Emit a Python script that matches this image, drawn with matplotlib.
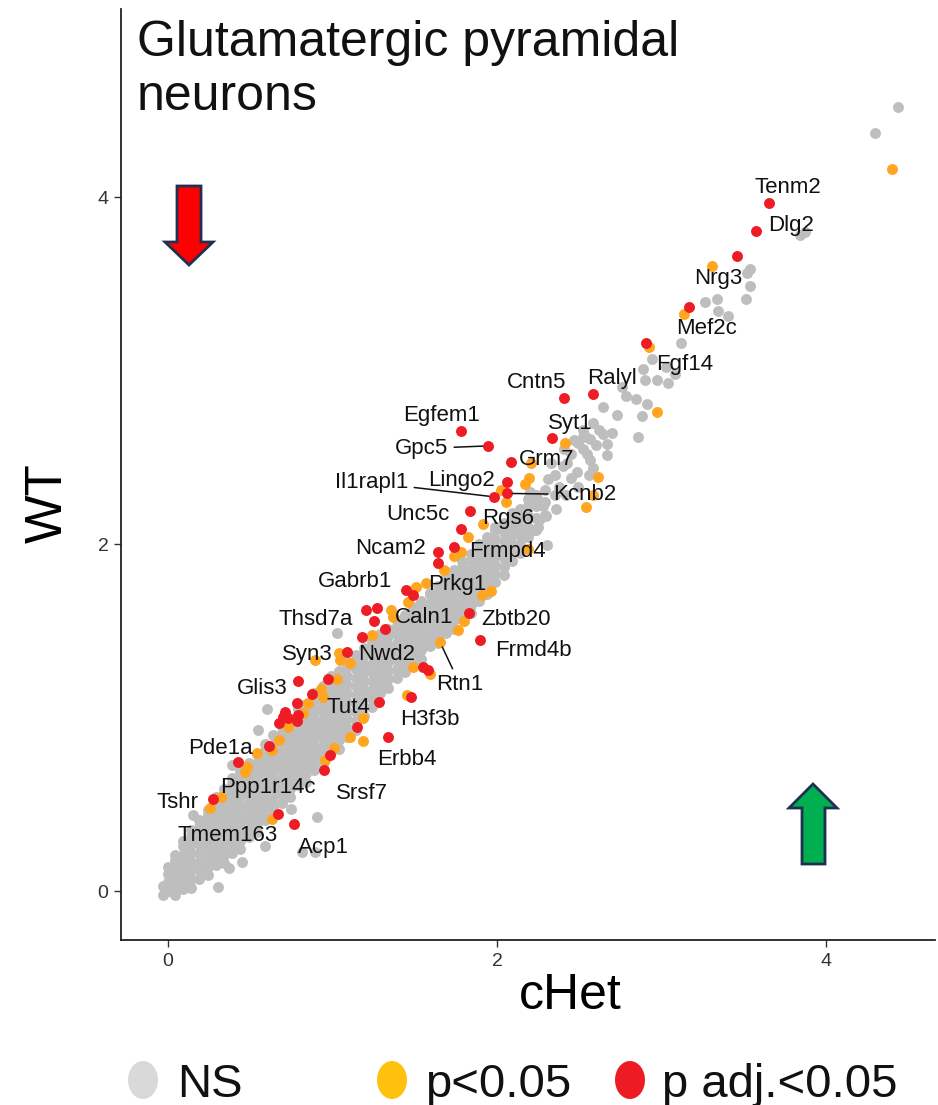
import matplotlib
matplotlib.use("Agg")
import matplotlib.pyplot as plt
from matplotlib.patches import Polygon, Ellipse

plt.rcParams['font.family'] = ['Liberation Sans', 'DejaVu Sans']

# dense NS band, read column by column (x, then the y values of that column)
ns_band_cols = [-0.03, 0.00, 0.04, 0.09, 0.14, 0.19, 0.24, 0.29, 0.34, 0.39, 0.44, 0.49,
                0.54, 0.59, 0.64, 0.69, 0.74, 0.79, 0.84, 0.89, 0.94, 0.99, 1.04, 1.09,
                1.14, 1.19, 1.24, 1.29, 1.34, 1.39, 1.44, 1.49, 1.54, 1.59, 1.64, 1.69,
                1.74, 1.79, 1.84, 1.89, 1.94, 1.99, 2.04, 2.09, 2.14, 2.19, 2.24, 2.29]
ns_band_vals = [
    [-0.02, 0.03],
    [-0.00, 0.05, 0.10, 0.14],
    [-0.02, 0.03, 0.08, 0.13, 0.18, 0.21],
    [0.01, 0.06, 0.11, 0.16, 0.21, 0.26, 0.29],
    [0.02, 0.07, 0.12, 0.17, 0.22, 0.27, 0.32, 0.35],
    [0.07, 0.12, 0.17, 0.22, 0.27, 0.32, 0.37, 0.41],
    [0.09, 0.14, 0.19, 0.24, 0.29, 0.34, 0.39, 0.44, 0.47],
    [0.15, 0.20, 0.25, 0.30, 0.35, 0.40, 0.45, 0.50, 0.54],
    [0.16, 0.21, 0.26, 0.31, 0.36, 0.41, 0.46, 0.51, 0.56, 0.59],
    [0.22, 0.27, 0.32, 0.37, 0.42, 0.47, 0.52, 0.57, 0.62, 0.65],
    [0.24, 0.29, 0.34, 0.39, 0.44, 0.49, 0.54, 0.59, 0.64, 0.69],
    [0.31, 0.36, 0.41, 0.46, 0.51, 0.56, 0.61, 0.66, 0.71, 0.74],
    [0.34, 0.39, 0.44, 0.49, 0.54, 0.59, 0.64, 0.69, 0.74, 0.79],
    [0.41, 0.46, 0.51, 0.56, 0.61, 0.66, 0.71, 0.76, 0.81, 0.85],
    [0.44, 0.49, 0.54, 0.59, 0.64, 0.69, 0.74, 0.79, 0.84, 0.90],
    [0.51, 0.56, 0.61, 0.66, 0.71, 0.76, 0.81, 0.86, 0.91, 0.95],
    [0.54, 0.59, 0.64, 0.69, 0.74, 0.79, 0.84, 0.89, 0.94, 0.99],
    [0.61, 0.66, 0.71, 0.76, 0.81, 0.86, 0.91, 0.96, 1.01, 1.05],
    [0.63, 0.68, 0.73, 0.78, 0.83, 0.88, 0.93, 0.98, 1.03, 1.08],
    [0.70, 0.75, 0.80, 0.85, 0.90, 0.95, 1.00, 1.05, 1.10, 1.14],
    [0.73, 0.78, 0.83, 0.88, 0.93, 0.98, 1.03, 1.08, 1.13, 1.18],
    [0.80, 0.85, 0.90, 0.95, 1.00, 1.05, 1.10, 1.15, 1.20, 1.24],
    [0.82, 0.87, 0.92, 0.97, 1.02, 1.07, 1.12, 1.17, 1.22, 1.27],
    [0.89, 0.94, 0.99, 1.04, 1.09, 1.14, 1.19, 1.24, 1.29, 1.32],
    [0.93, 0.98, 1.03, 1.08, 1.13, 1.18, 1.23, 1.28, 1.33, 1.36],
    [1.01, 1.06, 1.11, 1.16, 1.21, 1.26, 1.31, 1.36, 1.40],
    [1.06, 1.11, 1.16, 1.21, 1.26, 1.31, 1.36, 1.41, 1.44],
    [1.14, 1.19, 1.24, 1.29, 1.34, 1.39, 1.44, 1.48],
    [1.17, 1.22, 1.27, 1.32, 1.37, 1.42, 1.47, 1.51],
    [1.23, 1.28, 1.33, 1.38, 1.43, 1.48, 1.53, 1.56],
    [1.26, 1.31, 1.36, 1.41, 1.46, 1.51, 1.56, 1.59],
    [1.32, 1.37, 1.42, 1.47, 1.52, 1.57, 1.62, 1.64],
    [1.34, 1.39, 1.44, 1.49, 1.54, 1.59, 1.64, 1.67],
    [1.41, 1.46, 1.51, 1.56, 1.61, 1.66, 1.71, 1.72],
    [1.43, 1.48, 1.53, 1.58, 1.63, 1.68, 1.73, 1.76],
    [1.49, 1.54, 1.59, 1.64, 1.69, 1.74, 1.79, 1.81],
    [1.51, 1.56, 1.61, 1.66, 1.71, 1.76, 1.81, 1.85],
    [1.57, 1.62, 1.67, 1.72, 1.77, 1.82, 1.87, 1.90],
    [1.60, 1.65, 1.70, 1.75, 1.80, 1.85, 1.90, 1.94],
    [1.67, 1.72, 1.77, 1.82, 1.87, 1.92, 1.97, 2.00],
    [1.71, 1.76, 1.81, 1.86, 1.91, 1.96, 2.01, 2.04],
    [1.78, 1.83, 1.88, 1.93, 1.98, 2.03, 2.08, 2.10],
    [1.82, 1.87, 1.92, 1.97, 2.02, 2.07, 2.12],
    [1.90, 1.95, 2.00, 2.05, 2.10, 2.15, 2.18],
    [1.95, 2.00, 2.05, 2.10, 2.15, 2.20],
    [2.04, 2.10, 2.16, 2.22, 2.26],
    [2.08, 2.15, 2.22, 2.28],
    [2.17, 2.24, 2.31],
]

# scattered NS genes outside the band
ns_x = [4.44, 4.30, 3.87, 3.84, 3.538, 3.518, 3.538, 3.514, 3.339, 3.266, 3.345, 3.406,
        3.119, 2.940, 2.890, 3.025, 3.082, 2.900, 2.975, 3.042, 2.758, 2.782, 2.845, 2.910,
        2.642, 2.731, 2.879, 2.859, 2.646, 2.585, 2.535, 2.525, 2.565, 2.671, 2.494,
        2.484, 2.424, 2.565, 2.667, 2.585, 2.312, 2.241, 2.140, 2.261, 2.302, 2.231,
        2.099, 1.998, 2.35, 2.40, 2.45, 2.28, 2.35, 2.18, 2.25, 2.20, 2.38, 2.45, 2.52,
        2.60, 2.55, 2.33, 2.41, 2.47, 2.52, 2.62, 2.49, 2.36, 2.30, 2.42, 2.56, 2.70,
        1.026, 0.600, 0.545, 0.387, 0.154, 0.904, 0.746, 0.813, 0.894, 0.590, 0.448,
        0.371, 0.302]
ns_y = [4.52, 4.37, 3.80, 3.78, 3.585, 3.560, 3.487, 3.412, 3.410, 3.393, 3.343, 3.316,
        3.157, 3.064, 3.009, 3.022, 2.983, 2.945, 2.945, 2.930, 2.903, 2.853, 2.836, 2.810,
        2.791, 2.744, 2.740, 2.619, 2.634, 2.695, 2.623, 2.619, 2.603, 2.576, 2.580,
        2.416, 2.465, 2.484, 2.513, 2.436, 2.375, 2.263, 2.157, 2.147, 1.994, 2.080,
        2.099, 2.099, 2.40, 2.45, 2.38, 2.22, 2.28, 2.05, 2.10, 2.30, 2.33, 2.52, 2.55,
        2.57, 2.52, 2.47, 2.55, 2.60, 2.66, 2.66, 2.33, 2.20, 2.16, 2.28, 2.40, 2.64,
        1.485, 1.052, 0.928, 0.726, 0.437, 0.428, 0.473, 0.226, 0.226, 0.261, 0.169,
        0.134, 0.021]

# p < 0.05
p05_x = [4.40, 3.307, 3.139, 2.924, 2.971, 2.413, 2.207, 2.196, 2.170, 2.024, 2.055,
         2.616, 2.585, 2.539, 1.917, 1.826, 1.781, 1.739, 1.678, 2.187, 1.907, 1.964,
         1.568, 1.508, 1.461, 1.354, 1.366, 1.238, 1.799, 1.765, 1.653, 1.041, 1.106,
         0.894, 1.046, 1.491, 1.593, 1.026, 0.930, 0.940, 0.853, 0.819, 0.731, 0.673,
         1.187, 1.106, 1.183, 1.455, 0.539, 0.630, 0.478, 0.468, 0.954, 1.009, 0.255,
         0.320, 0.630]
p05_y = [4.16, 3.604, 3.324, 3.137, 2.759, 2.580, 2.465, 2.378, 2.345, 2.311, 2.244,
         2.387, 2.282, 2.215, 2.115, 2.042, 1.955, 1.932, 1.850, 1.969, 1.706, 1.729,
         1.773, 1.754, 1.667, 1.620, 1.577, 1.476, 1.558, 1.504, 1.436, 1.370, 1.312,
         1.331, 1.331, 1.292, 1.254, 1.222, 1.162, 1.120, 1.082, 1.027, 0.947, 0.870,
         0.995, 0.886, 0.866, 1.130, 0.797, 0.813, 0.716, 0.687, 0.755, 0.822, 0.476,
         0.543, 0.413]

# adjusted p < 0.05
padj_x = [3.656, 3.573, 3.461, 3.167, 2.904, 2.584, 2.407, 2.336, 1.781, 1.947, 2.083,
          2.063, 1.984, 2.059, 1.836, 1.781, 1.739, 1.639, 1.639, 1.447, 1.487, 1.204,
          1.269, 1.252, 1.319, 1.177, 1.830, 1.897, 1.086, 1.552, 1.582, 0.792, 0.975,
          0.782, 0.877, 0.711, 0.697, 0.677, 0.728, 0.782, 0.792, 1.285, 1.147, 1.475,
          1.335, 0.614, 0.428, 0.950, 0.985, 0.276, 0.671, 0.766]
padj_y = [3.967, 3.804, 3.660, 3.368, 3.160, 2.863, 2.843, 2.609, 2.651, 2.566, 2.474,
          2.359, 2.272, 2.292, 2.190, 2.086, 1.984, 1.952, 1.892, 1.735, 1.706, 1.620,
          1.629, 1.558, 1.508, 1.466, 1.600, 1.447, 1.379, 1.292, 1.274, 1.212, 1.222,
          1.082, 1.135, 1.033, 1.004, 0.966, 0.995, 0.981, 1.014, 1.091, 0.947, 1.116,
          0.886, 0.837, 0.745, 0.697, 0.784, 0.528, 0.447, 0.384]

genes = ["Tenm2", "Dlg2", "Nrg3", "Mef2c", "Fgf14", "Ralyl", "Cntn5", "Syt1", "Egfem1",
         "Gpc5", "Grm7", "Il1rapl1", "Lingo2", "Kcnb2", "Unc5c", "Rgs6", "Ncam2", "Frmpd4",
         "Gabrb1", "Prkg1", "Thsd7a", "Caln1", "Zbtb20", "Syn3", "Nwd2", "Frmd4b", "Rtn1",
         "Glis3", "Tut4", "H3f3b", "Pde1a", "Erbb4", "Ppp1r14c", "Srsf7", "Tshr",
         "Tmem163", "Acp1"]
gene_lx = [3.769, 3.787, 3.343, 3.277, 3.143, 2.699, 2.243, 2.444, 1.666, 1.544, 2.304,
           1.240, 1.787, 2.535, 1.520, 2.067, 1.350, 2.061, 1.137, 1.757, 0.900, 1.556,
           2.116, 0.845, 1.331, 2.219, 1.775, 0.571, 1.094, 1.593, 0.316, 1.453, 0.608,
           1.179, 0.055, 0.365, 0.942]
gene_ly = [4.069, 3.850, 3.545, 3.256, 3.049, 2.968, 2.945, 2.709, 2.755, 2.565, 2.501,
           2.369, 2.380, 2.300, 2.184, 2.161, 1.988, 1.971, 1.798, 1.781, 1.579, 1.591,
           1.579, 1.378, 1.378, 1.401, 1.205, 1.182, 1.070, 1.003, 0.836, 0.772, 0.611,
           0.576, 0.524, 0.334, 0.265]
# labels joined to their point by a segment
seg_genes = ["Gpc5", "Il1rapl1", "Kcnb2", "Rtn1"]
seg_x = [1.947, 1.984, 2.059, 1.653]
seg_y = [2.566, 2.272, 2.292, 1.436]

legend_labels = ["NS", "p<0.05", "p adj.<0.05"]

W, H = 938, 1105
def fpx(x, y):
    return (x / W, 1 - y / H)

fig = plt.figure(figsize=(W / 100, H / 100), dpi=100)
ax = fig.add_axes([121 / W, 1 - 940 / H, (935 - 121) / W, (940 - 9) / H])

band_x = [c for c, vals in zip(ns_band_cols, ns_band_vals) for v in vals]
band_y = [v for vals in ns_band_vals for v in vals]

ax.scatter(band_x + ns_x, band_y + ns_y, s=62, color="#BEBEBE", linewidths=0, zorder=1)
ax.scatter(p05_x, p05_y, s=62, color="#FFA51F", linewidths=0, zorder=2)
ax.scatter(padj_x, padj_y, s=62, color="#EE1D25", linewidths=0, zorder=3)

for g, lx, ly in zip(genes, gene_lx, gene_ly):
    if g in seg_genes:
        i = seg_genes.index(g)
        ax.annotate(g, xy=(seg_x[i], seg_y[i]), xytext=(lx, ly), fontsize=16,
                    ha="center", va="center_baseline", color="#111111", zorder=5,
                    arrowprops=dict(arrowstyle="-", color="#111111", lw=1.1,
                                    shrinkA=2, shrinkB=4))
    else:
        ax.text(lx, ly, g, fontsize=16, ha="center", va="center_baseline",
                color="#111111", zorder=5)

ax.set_xlim(-0.286, 4.663)
ax.set_ylim(-0.282, 5.084)
ax.set_xticks([0, 2, 4])
ax.set_yticks([0, 2, 4])
ax.spines["top"].set_visible(False)
ax.spines["right"].set_visible(False)
for s in ["left", "bottom"]:
    ax.spines[s].set_linewidth(1.3)
    ax.spines[s].set_color("#222222")
ax.tick_params(length=5, width=1, color="#333333", labelsize=14, labelcolor="#333333", pad=4)

ax.set_xlabel("cHet", fontsize=36)
ax.xaxis.set_label_coords((570 - 121) / (935 - 121), (940 - 996) / (940 - 9))
ax.xaxis.label.set_va("center")
ax.set_ylabel("WT", fontsize=37)
ax.yaxis.set_label_coords((48 - 121) / (935 - 121), (940 - 503) / (940 - 9))
ax.yaxis.label.set_va("center")

fig.text(*fpx(137, 20), "Glutamatergic pyramidal\nneurons", fontsize=36,
         ha="left", va="top", linespacing=1.22, color="#111111")

# direction arrows
red_arrow = [(177, 186), (201, 186), (201, 242), (213, 242), (189, 265), (165, 242), (177, 242)]
green_arrow = [(813, 784), (837, 808), (825, 808), (825, 864), (802, 864), (802, 808), (789, 808)]
for pts, fc in [(red_arrow, "#FF0000"), (green_arrow, "#00B050")]:
    fig.add_artist(Polygon([fpx(x, y) for x, y in pts], closed=True, facecolor=fc,
                           edgecolor="#1F3050", linewidth=2, transform=fig.transFigure))

# legend
legend_colors = ["#D9D9D9", "#FFC10E", "#ED1C24"]
dot_px = [143, 392, 630]
text_px = [177, 425, 662]
for lab, c, dx, tx in zip(legend_labels, legend_colors, dot_px, text_px):
    fig.add_artist(Ellipse(fpx(dx, 1080), 30 / W, 38 / H, facecolor=c, edgecolor="none",
                           transform=fig.transFigure))
    fig.text(*fpx(tx, 1097), lab, fontsize=34, ha="left", va="baseline", color="#111111")

fig.savefig("out.png", dpi=100)
